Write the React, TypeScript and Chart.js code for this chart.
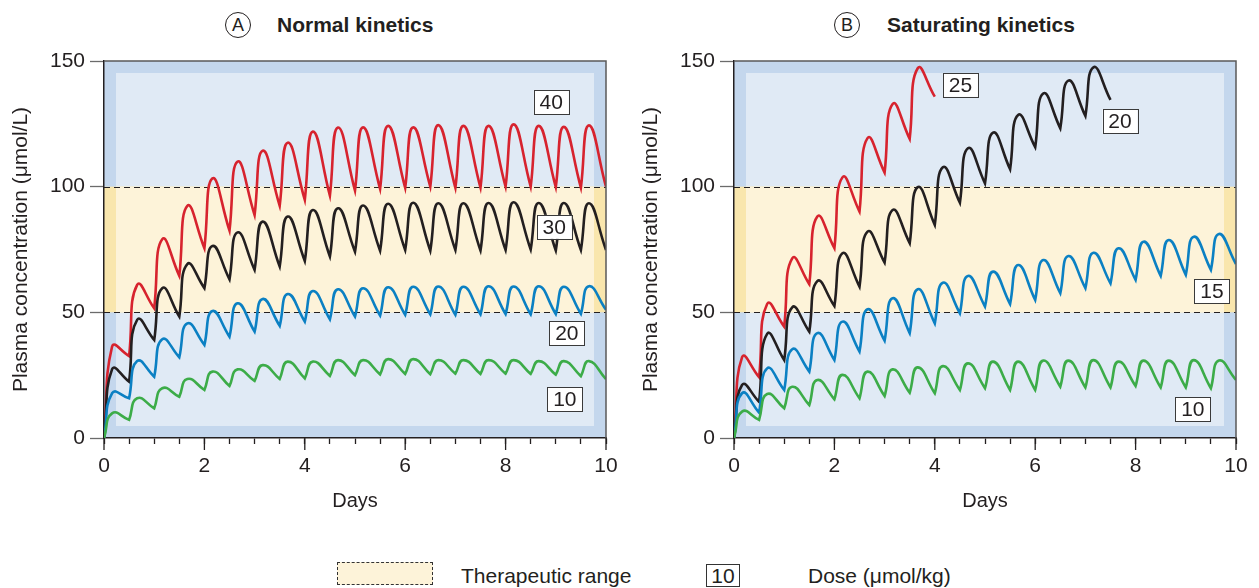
import React, { useEffect, useRef } from 'react';
import { Chart, registerables } from 'chart.js';

Chart.register(...registerables);

const FONT = '"Liberation Sans", Arial, Helvetica, sans-serif';
const INK = '#231f20';

// ---- shared axis data ----
const DOSE_DAYS = [0, 0.5, 1, 1.5, 2, 2.5, 3, 3.5, 4, 4.5, 5, 5.5, 6, 6.5, 7, 7.5, 8, 8.5, 9, 9.5, 10];
const PEAK_DELAY = 0.16;
const Y_TICKS = [0, 50, 100, 150];
const X_TICK_LABELS = [0, 2, 4, 6, 8, 10];
const THERAPEUTIC_RANGE = [50, 100];

// ---- Panel A: normal kinetics (value at each dose time, peak after each dose) ----
const A_40_TROUGHS = [0, 32.6, 51.6, 64.5, 75.5, 82.5, 88.7, 92.4, 94.7, 96.4, 98.4, 99.1, 99.5, 100, 99.5, 99.6, 100, 100, 99.8, 99.6, 100];
const A_40_PEAKS = [36.3, 60.9, 79.1, 92.4, 103.3, 110, 114.3, 117.5, 121.9, 123.5, 123.6, 124.2, 123.6, 124.5, 124.2, 124.2, 124.8, 124.2, 123.8, 124.4];
const A_30_TROUGHS = [0, 22.4, 39, 48.3, 59.6, 63.1, 66.9, 68.2, 70.4, 72.2, 74.1, 74.5, 74.8, 74.5, 74.8, 74.6, 74.8, 75, 74.6, 74.8, 74.8];
const A_30_PEAKS = [27.3, 47, 59.6, 69.2, 76.4, 81.8, 86.1, 88.1, 90.7, 91.4, 92.5, 93.2, 93.6, 93.4, 93.4, 93.5, 93.8, 93.5, 93.5, 93.4];
const A_20_TROUGHS = [0, 15.8, 24.4, 32.1, 37, 40.3, 42.3, 44.6, 46.3, 47.2, 48.3, 48.7, 49, 49.2, 49, 49.2, 49.3, 49.2, 49.3, 49.4, 51];
const A_20_PEAKS = [17.8, 30.6, 39.3, 45.6, 50.5, 53.6, 55.3, 57.3, 58.5, 59.2, 59.6, 60, 60.2, 60.3, 60.2, 60.4, 60.3, 60.4, 60.2, 60.4];
const A_10_TROUGHS = [0, 7.2, 11.8, 16.4, 19.1, 20.7, 22.7, 23.5, 23.7, 24.7, 25, 25.3, 25.5, 25.4, 25.6, 25.5, 25.6, 25.5, 25.2, 24.6, 23.4];
const A_10_PEAKS = [9.8, 15.8, 19.8, 23.5, 26.4, 27.3, 29, 30.4, 30.4, 31, 31, 31.4, 31.4, 31, 31, 31, 31, 30.6, 30.6, 30.6];

// ---- Panel B: saturating kinetics ----
const B_25_TROUGHS = [0, 24.2, 44.3, 61.2, 75.5, 90.1, 105.6, 119, 135.8];
const B_25_PEAKS = [32.1, 53.3, 71.5, 88.1, 103.7, 119.3, 132.9, 147.1];
const B_20_TROUGHS = [0, 14.4, 31, 42.3, 52.5, 60.2, 69.8, 77.5, 84.8, 93.6, 101.3, 106.9, 115.7, 123.2, 128.1, 134.5];
const B_20_PEAKS = [21.1, 41.4, 52, 62.4, 73.5, 82.1, 90.7, 99.8, 107.7, 115.3, 121.5, 128.5, 137.1, 142.2, 147.5];
const B_15_TROUGHS = [0, 10.1, 19.1, 26.4, 31, 34.4, 38.7, 41.7, 45.6, 49.6, 52.3, 53.3, 54.9, 57.6, 59.6, 61.5, 62.9, 64.5, 64.9, 66.9, 69.2];
const B_15_PEAKS = [17.8, 27.7, 35.3, 41.7, 46.3, 51.2, 55.6, 59.2, 61.8, 64.5, 66.2, 68.8, 70.8, 72.4, 73.7, 75.5, 78.1, 78.8, 80.1, 81.2];
const B_10_TROUGHS = [0, 7.2, 11.8, 13.1, 15.4, 15.8, 16.7, 18, 17.8, 19.1, 19.8, 19.1, 19.1, 20.4, 20.1, 20.1, 20.7, 20.1, 20.1, 19.8, 23.1];
const B_10_PEAKS = [10.5, 17.5, 20.4, 23.1, 25.1, 26.4, 27.3, 28.1, 28.6, 29.7, 30.4, 30.4, 30.8, 30.8, 31, 30.4, 30.8, 30.8, 31, 30.8];

// ---- dose label anchors (days, µmol/L) ----
const A_DOSE_LABELS = ['40', '30', '20', '10'];
const A_LABEL_DAYS = [8.91, 8.97, 9.22, 9.18];
const A_LABEL_VALUES = [133.7, 84, 41.8, 15.5];
const B_DOSE_LABELS = ['25', '20', '15', '10'];
const B_LABEL_DAYS = [4.51, 7.69, 9.52, 9.14];
const B_LABEL_VALUES = [140.5, 126, 58.3, 11.5];

const RED = '#d7232e';
const BLACK = '#231f20';
const BLUE = '#0b80c3';
const GREEN = '#3cac48';

function buildCurve(troughs: number[], peaks: number[]) {
  const pts: { x: number; y: number }[] = [];
  for (let k = 0; k < peaks.length; k++) {
    pts.push({ x: DOSE_DAYS[k], y: troughs[k] });
    pts.push({ x: DOSE_DAYS[k] + PEAK_DELAY, y: peaks[k] });
    pts.push({ x: DOSE_DAYS[k + 1], y: troughs[k + 1] });
  }
  return pts;
}

function makeDataset(troughs: number[], peaks: number[], color: string) {
  return {
    data: buildCurve(troughs, peaks),
    borderColor: color,
    borderWidth: 2.6,
    pointRadius: 0,
    tension: 0.5,
    fill: false,
  };
}

function makeDecorPlugin(texts: string[], days: number[], values: number[]) {
  return {
    id: 'panelDecor',
    beforeDraw(chart: any) {
      const { ctx, chartArea: a, scales } = chart;
      const y = scales.y;
      const inset = 12;
      ctx.save();
      ctx.fillStyle = '#c4d7ed';
      ctx.fillRect(a.left, a.top, a.right - a.left, a.bottom - a.top);
      ctx.fillStyle = '#e0eaf5';
      ctx.fillRect(a.left + inset, a.top + inset, a.right - a.left - 2 * inset, a.bottom - a.top - 2 * inset);
      const yHi = y.getPixelForValue(THERAPEUTIC_RANGE[1]);
      const yLo = y.getPixelForValue(THERAPEUTIC_RANGE[0]);
      ctx.fillStyle = '#f9e6ad';
      ctx.fillRect(a.left, yHi, a.right - a.left, yLo - yHi);
      ctx.fillStyle = '#fdf3d9';
      ctx.fillRect(a.left + inset, yHi, a.right - a.left - 2 * inset, yLo - yHi);
      ctx.restore();
    },
    beforeDatasetsDraw(chart: any) {
      const { ctx, chartArea: a, scales } = chart;
      ctx.save();
      ctx.strokeStyle = INK;
      ctx.lineWidth = 1.2;
      ctx.setLineDash([6, 4]);
      for (const v of THERAPEUTIC_RANGE) {
        const py = Math.round(scales.y.getPixelForValue(v)) + 0.5;
        ctx.beginPath();
        ctx.moveTo(a.left, py);
        ctx.lineTo(a.right, py);
        ctx.stroke();
      }
      ctx.restore();
    },
    afterDatasetsDraw(chart: any) {
      const { ctx, scales } = chart;
      ctx.save();
      ctx.font = '21px ' + FONT;
      ctx.textAlign = 'center';
      ctx.textBaseline = 'middle';
      for (let i = 0; i < texts.length; i++) {
        const cx = scales.x.getPixelForValue(days[i]);
        const cy = scales.y.getPixelForValue(values[i]);
        const w = 35, h = 24;
        ctx.fillStyle = '#ffffff';
        ctx.fillRect(cx - w / 2, cy - h / 2, w, h);
        ctx.strokeStyle = '#3a3a3a';
        ctx.lineWidth = 1;
        ctx.strokeRect(Math.round(cx - w / 2) + 0.5, Math.round(cy - h / 2) + 0.5, w, h);
        ctx.fillStyle = INK;
        ctx.fillText(texts[i], cx, cy + 1);
      }
      ctx.restore();
    },
    afterDraw(chart: any) {
      const { ctx, chartArea: a, scales } = chart;
      ctx.save();
      ctx.strokeStyle = '#5a5a5a';
      ctx.lineWidth = 1.5;
      ctx.beginPath();
      ctx.moveTo(a.left, a.top);
      ctx.lineTo(a.right, a.top);
      ctx.lineTo(a.right, a.bottom);
      ctx.stroke();
      ctx.strokeStyle = INK;
      ctx.lineWidth = 1.3;
      for (const v of X_TICK_LABELS) {
        const px = scales.x.getPixelForValue(v);
        ctx.beginPath();
        ctx.moveTo(px, a.bottom);
        ctx.lineTo(px, a.bottom + 12);
        ctx.stroke();
      }
      ctx.restore();
    },
  };
}

function Panel(props: {
  left: number;
  width: number;
  padRight: number;
  datasets: any[];
  texts: string[];
  days: number[];
  values: number[];
}) {
  const ref = useRef<HTMLCanvasElement>(null);
  useEffect(() => {
    const chart = new Chart(ref.current as HTMLCanvasElement, {
      type: 'line',
      data: { datasets: props.datasets },
      options: {
        responsive: false,
        animation: false,
        events: [],
        layout: { padding: { left: 0, right: props.padRight, top: 61, bottom: 12 } },
        plugins: { legend: { display: false }, tooltip: { enabled: false } },
        scales: {
          x: {
            type: 'linear',
            min: 0,
            max: 10,
            afterFit: (s: any) => {
              s.height = 80;
            },
            afterBuildTicks: (s: any) => {
              s.ticks = DOSE_DAYS.map((v) => ({ value: v }));
            },
            grid: { drawOnChartArea: false, drawTicks: true, tickLength: 6, tickColor: INK, tickWidth: 1.3 },
            border: { color: INK, width: 1.5 },
            ticks: {
              autoSkip: false,
              maxRotation: 0,
              padding: 10,
              color: INK,
              font: { family: FONT, size: 21 },
              callback: (v: any) => (X_TICK_LABELS.includes(Number(v)) ? String(v) : ''),
            },
            title: {
              display: true,
              text: 'Days',
              color: INK,
              font: { family: FONT, size: 20 },
              padding: { top: 0, bottom: 5 },
            },
          },
          y: {
            type: 'linear',
            min: 0,
            max: 150,
            afterFit: (s: any) => {
              s.width = 104;
            },
            afterBuildTicks: (s: any) => {
              s.ticks = Y_TICKS.map((v) => ({ value: v }));
            },
            grid: { drawOnChartArea: false, drawTicks: true, tickLength: 14, tickColor: '#6b6b6b', tickWidth: 1.3 },
            border: { color: INK, width: 1.5 },
            ticks: {
              padding: 5,
              color: INK,
              font: { family: FONT, size: 21 },
            },
            title: {
              display: true,
              text: 'Plasma concentration (μmol/L)',
              color: INK,
              font: { family: FONT, size: 21 },
              padding: { top: 9, bottom: 0 },
            },
          },
        },
      },
      plugins: [makeDecorPlugin(props.texts, props.days, props.values)],
    } as any);
    return () => chart.destroy();
  }, []);
  return (
    <canvas
      ref={ref}
      width={props.width}
      height={530}
      style={{ position: 'absolute', left: props.left, top: 0, width: props.width, height: 530 }}
    />
  );
}

function PanelTitle(props: { letter: string; cx: number; textLeft: number; text: string }) {
  return (
    <>
      <div
        style={{
          position: 'absolute',
          left: props.cx - 13,
          top: 12,
          width: 24,
          height: 24,
          border: '1.3px solid ' + INK,
          borderRadius: '50%',
          fontFamily: FONT,
          fontSize: 18,
          lineHeight: '24px',
          textAlign: 'center',
          color: INK,
        }}
      >
        {props.letter}
      </div>
      <div
        style={{
          position: 'absolute',
          left: props.textLeft,
          top: 10,
          height: 30,
          lineHeight: '30px',
          fontFamily: FONT,
          fontWeight: 'bold',
          fontSize: 21,
          color: INK,
          whiteSpace: 'nowrap',
        }}
      >
        {props.text}
      </div>
    </>
  );
}

export default function App() {
  const aSets = [
    makeDataset(A_10_TROUGHS, A_10_PEAKS, GREEN),
    makeDataset(A_20_TROUGHS, A_20_PEAKS, BLUE),
    makeDataset(A_30_TROUGHS, A_30_PEAKS, BLACK),
    makeDataset(A_40_TROUGHS, A_40_PEAKS, RED),
  ];
  const bSets = [
    makeDataset(B_10_TROUGHS, B_10_PEAKS, GREEN),
    makeDataset(B_15_TROUGHS, B_15_PEAKS, BLUE),
    makeDataset(B_20_TROUGHS, B_20_PEAKS, BLACK),
    makeDataset(B_25_TROUGHS, B_25_PEAKS, RED),
  ];
  const legendText: React.CSSProperties = {
    position: 'absolute',
    top: 563,
    height: 26,
    lineHeight: '26px',
    fontFamily: FONT,
    fontSize: 21,
    color: INK,
    whiteSpace: 'nowrap',
  };
  return (
    <div style={{ position: 'absolute', left: 0, top: 0, width: 1259, height: 588, background: '#ffffff', overflow: 'hidden' }}>
      <PanelTitle letter="A" cx={238} textLeft={277} text="Normal kinetics" />
      <PanelTitle letter="B" cx={847} textLeft={887} text="Saturating kinetics" />
      <Panel left={0} width={630} padRight={24} datasets={aSets} texts={A_DOSE_LABELS} days={A_LABEL_DAYS} values={A_LABEL_VALUES} />
      <Panel left={630} width={629} padRight={23} datasets={bSets} texts={B_DOSE_LABELS} days={B_LABEL_DAYS} values={B_LABEL_VALUES} />
      <div
        style={{
          position: 'absolute',
          left: 337,
          top: 562,
          width: 94,
          height: 21,
          background: '#fdf3d9',
          border: '1px dashed #333',
        }}
      />
      <div style={{ ...legendText, left: 461 }}>Therapeutic range</div>
      <div
        style={{
          position: 'absolute',
          left: 706,
          top: 564,
          width: 32,
          height: 21,
          border: '1px solid #333',
          fontFamily: FONT,
          fontSize: 21,
          lineHeight: '22px',
          textAlign: 'center',
          color: INK,
        }}
      >
        10
      </div>
      <div style={{ ...legendText, left: 808 }}>Dose (μmol/kg)</div>
    </div>
  );
}
